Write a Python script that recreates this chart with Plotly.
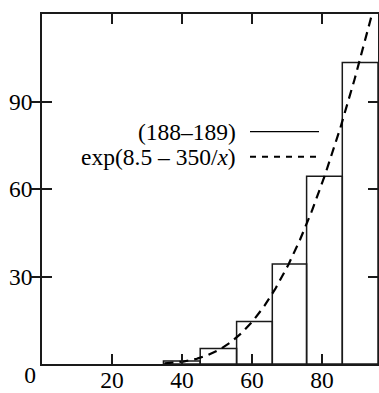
import numpy as np
import plotly.graph_objects as go

# Histogram (188–189): bin edges and counts
bin_edges = [34.7, 45.2, 55.6, 65.8, 75.6, 85.8, 96.0]
counts = [1.0, 5.3, 14.6, 34.3, 64.4, 103.4]

# Fitted curve exp(A - B/x), as stated in the chart's legend
fit_A = 8.5
fit_B = 350.0
fit_x_start = 35.0
fit_x_end = 96.0

x_ticks = [20, 40, 60, 80]
y_ticks = [30, 60, 90]
origin_tick = [0]
series_label = "(188–189)"
fit_label = "exp(8.5 – 350/<i>x</i>)"

centers = [(a + b) / 2 for a, b in zip(bin_edges[:-1], bin_edges[1:])]
widths = [b - a for a, b in zip(bin_edges[:-1], bin_edges[1:])]

fx = np.linspace(fit_x_start, fit_x_end, 400)
fy = np.exp(fit_A - fit_B / fx)

FONT = "Liberation Serif"
FS = 23.5
INK = "#1a1a1a"

fig = go.Figure()
fig.add_trace(go.Bar(
    x=centers, y=counts, width=widths,
    marker=dict(color="rgba(0,0,0,0)", line=dict(color=INK, width=1.5)),
    showlegend=False, hoverinfo="skip",
))
fig.add_trace(go.Scatter(
    x=fx, y=fy, mode="lines",
    line=dict(color="black", width=2.2, dash="9px,6px"),
    showlegend=False, hoverinfo="skip",
))
# empty trace so the secondary x axis (carrying the corner "0" label) is drawn
fig.add_trace(go.Scatter(x=[], y=[], xaxis="x2", showlegend=False, hoverinfo="skip"))

axis_common = dict(
    showline=True, linecolor=INK, linewidth=1.5,
    mirror="allticks", ticks="inside", ticklen=10, tickwidth=1.5, tickcolor=INK,
    showgrid=False, zeroline=False, automargin=False,
    tickfont=dict(family=FONT, size=FS, color="black"),
)
fig.update_xaxes(range=[0, 96], tickvals=x_ticks, ticklabelstandoff=-6, **axis_common)
fig.update_yaxes(range=[0, 120], tickvals=y_ticks, ticklabelstandoff=3, **axis_common)

fig.update_layout(xaxis2=dict(
    overlaying="x", anchor="y", side="bottom", range=[0, 96],
    tickvals=origin_tick, ticktext=[str(v) for v in origin_tick],
    showline=False, showgrid=False, zeroline=False, ticks="",
    ticklabelshift=-12, ticklabelstandoff=-6, automargin=False,
    tickfont=dict(family=FONT, size=FS, color="black"),
))

W, H = 379, 393
ml, mr, mt, mb = 42, 1, 14, 29
pw, ph = W - ml - mr, H - mt - mb

def px_x(p):
    return (p - ml) / pw

def px_y(p):
    return (H - mb - p) / ph

annotations = [
    dict(text=series_label, x=px_x(238), y=px_y(131.7), xref="paper", yref="paper",
         xanchor="right", yanchor="middle", showarrow=False,
         font=dict(family=FONT, size=FS, color="black")),
    dict(text=fit_label, x=px_x(238), y=px_y(156.7), xref="paper", yref="paper",
         xanchor="right", yanchor="middle", showarrow=False,
         font=dict(family=FONT, size=FS, color="black")),
]
shapes = [
    dict(type="line", xref="paper", yref="paper",
         x0=px_x(250), x1=px_x(319), y0=px_y(131.7), y1=px_y(131.7),
         line=dict(color="black", width=1.3)),
    dict(type="line", xref="paper", yref="paper",
         x0=px_x(250), x1=px_x(320), y0=px_y(156.7), y1=px_y(156.7),
         line=dict(color="black", width=2, dash="6px,6px")),
]

fig.update_layout(
    width=W, height=H,
    margin=dict(l=ml, r=mr, t=mt, b=mb, pad=0, autoexpand=False),
    paper_bgcolor="white", plot_bgcolor="white",
    barmode="overlay", showlegend=False,
    annotations=annotations, shapes=shapes,
    font=dict(family=FONT, size=FS, color="black"),
)
fig.write_html(
    "out.html",
    config={"displayModeBar": False},
    post_script="document.body.style.margin='0';document.body.style.padding='0';document.body.style.overflow='hidden';",
)
